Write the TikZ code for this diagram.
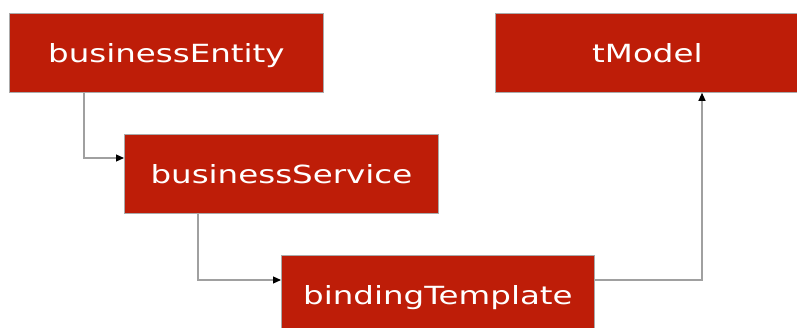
\documentclass[tikz,border=0pt]{standalone}
\usepackage{fontspec}
\usetikzlibrary{arrows.meta}
\newfontfamily\boxfont[FakeStretch=1.3]{DejaVu Sans}
\definecolor{boxred}{RGB}{190,29,8}
\definecolor{boxedge}{RGB}{170,170,170}
\definecolor{linegray}{RGB}{160,160,160}
\tikzset{
  entity/.style={draw=boxedge, line width=0.8pt, fill=boxred, text=white,
    font=\boxfont\fontsize{25}{30}\selectfont, inner sep=0pt,
    text height=19pt, text depth=0pt,
    anchor=north west, minimum height=79pt},
  conn/.style={draw=linegray, line width=1.1pt,
    -{Triangle[length=8pt,width=7pt,color=black]}}
}
\begin{document}
\begin{tikzpicture}[x=1pt,y=-1pt]
  \useasboundingbox (0,0) rectangle (797,327);
  \clip (0,0) rectangle (797,327);
  % the four UDDI data structures
  \node[entity, minimum width=314pt] (be) at (9,13) {businessEntity};
  \node[entity, minimum width=304pt] (tm) at (495,13) {tModel};
  \node[entity, minimum width=314pt] (bs) at (124,134) {businessService};
  \node[entity, minimum width=313pt] (bt) at (281,255) {bindingTemplate};
  % containment and reference links
  \draw[conn] ([xshift=75pt]be.south west) |- ([yshift=-24pt]bs.north west);
  \draw[conn] ([xshift=74pt]bs.south west) |- ([yshift=-25pt]bt.north west);
  \draw[conn] ([yshift=-25pt]bt.north east) -| ([xshift=207pt]tm.south west);
\end{tikzpicture}
\end{document}
